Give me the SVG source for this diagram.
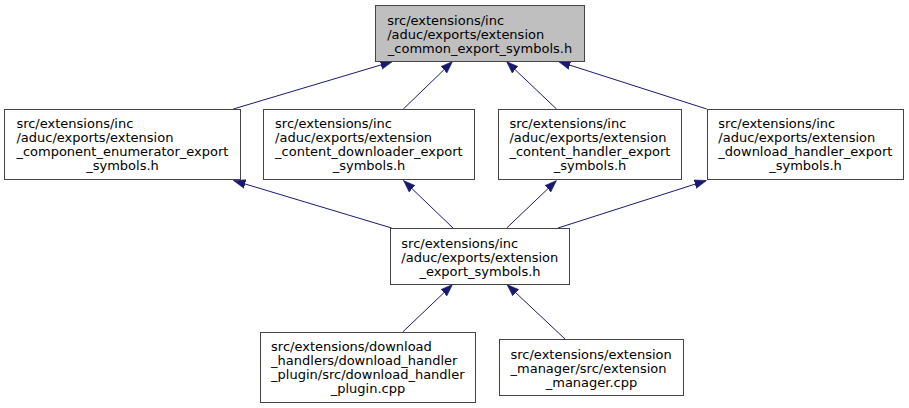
<svg xmlns="http://www.w3.org/2000/svg" width="909" height="408" viewBox="0 0 909 408">
<style>
.box{fill:#ffffff;stroke:#444444;stroke-width:1}
.top{fill:#bfbfbf;stroke:#444444;stroke-width:1}
text{font-family:"DejaVu Sans",sans-serif;font-size:13px;fill:#000000}
.m{text-anchor:middle}
.e{fill:none;stroke:#191970;stroke-width:1;marker-end:url(#arr)}
</style>
<defs>
<marker id="arr" markerUnits="userSpaceOnUse" markerWidth="12" markerHeight="10" viewBox="0 0 11 8" refX="11" refY="4" orient="auto">
<path d="M0,0 L11,4 L0,8 z" fill="#191970" stroke="#191970" stroke-width="0.5"/>
</marker>
</defs>
<rect width="909" height="408" fill="#ffffff"/>
<g id="connectors">
<path class="e" d="M233.3,109 L392.5,61.5"/>
<path class="e" d="M403.3,109 L452.5,61.5"/>
<path class="e" d="M556.5,109 L506.5,61.5"/>
<path class="e" d="M706.7,109 L558.5,61.5"/>
<path class="e" d="M391.7,228 L233.5,180.5"/>
<path class="e" d="M453,228 L403.5,180.5"/>
<path class="e" d="M506.7,228 L556.5,180.5"/>
<path class="e" d="M558,228 L706.5,180.5"/>
<path class="e" d="M402.7,332 L452.5,284.5"/>
<path class="e" d="M565,339 L507,284.5"/>
</g>
<g id="node_common">
<rect class="top" x="375.5" y="5.5" width="209" height="56"/>
<text x="387.2" y="24.5">src/extensions/inc</text>
<text x="387.2" y="38.5">/aduc/exports/extension</text>
<text class="m" x="480" y="52.5">_common_export_symbols.h</text>
</g>
<g id="node_component_enumerator">
<rect class="box" x="4.5" y="109.5" width="236" height="70"/>
<text x="16.4" y="127.5">src/extensions/inc</text>
<text x="16.4" y="141.5">/aduc/exports/extension</text>
<text x="16.4" y="155.5">_component_enumerator_export</text>
<text class="m" x="122.5" y="169.5">_symbols.h</text>
</g>
<g id="node_content_downloader">
<rect class="box" x="263.5" y="109.5" width="211" height="70"/>
<text x="275.1" y="127.5">src/extensions/inc</text>
<text x="275.1" y="141.5">/aduc/exports/extension</text>
<text x="275.1" y="155.5">_content_downloader_export</text>
<text class="m" x="369" y="169.5">_symbols.h</text>
</g>
<g id="node_content_handler">
<rect class="box" x="498.5" y="109.5" width="183" height="70"/>
<text x="509.4" y="127.5">src/extensions/inc</text>
<text x="509.4" y="141.5">/aduc/exports/extension</text>
<text x="509.4" y="155.5">_content_handler_export</text>
<text class="m" x="590" y="169.5">_symbols.h</text>
</g>
<g id="node_download_handler">
<rect class="box" x="707.5" y="109.5" width="196" height="70"/>
<text x="718.3" y="127.5">src/extensions/inc</text>
<text x="718.3" y="141.5">/aduc/exports/extension</text>
<text x="718.3" y="155.5">_download_handler_export</text>
<text class="m" x="805.5" y="169.5">_symbols.h</text>
</g>
<g id="node_export_symbols">
<rect class="box" x="390.5" y="228.5" width="179" height="56"/>
<text x="401.3" y="247.5">src/extensions/inc</text>
<text x="401.3" y="261.5">/aduc/exports/extension</text>
<text class="m" x="480" y="275.5">_export_symbols.h</text>
</g>
<g id="node_download_handler_plugin">
<rect class="box" x="260.5" y="332.5" width="215" height="70"/>
<text x="271.1" y="350.5">src/extensions/download</text>
<text x="271.1" y="364.5">_handlers/download_handler</text>
<text x="271.1" y="378.5">_plugin/src/download_handler</text>
<text class="m" x="368" y="392.5">_plugin.cpp</text>
</g>
<g id="node_extension_manager">
<rect class="box" x="499.5" y="339.5" width="184" height="56"/>
<text x="510.5" y="358.5">src/extensions/extension</text>
<text x="510.5" y="372.5">_manager/src/extension</text>
<text class="m" x="591.5" y="386.5">_manager.cpp</text>
</g>
</svg>
